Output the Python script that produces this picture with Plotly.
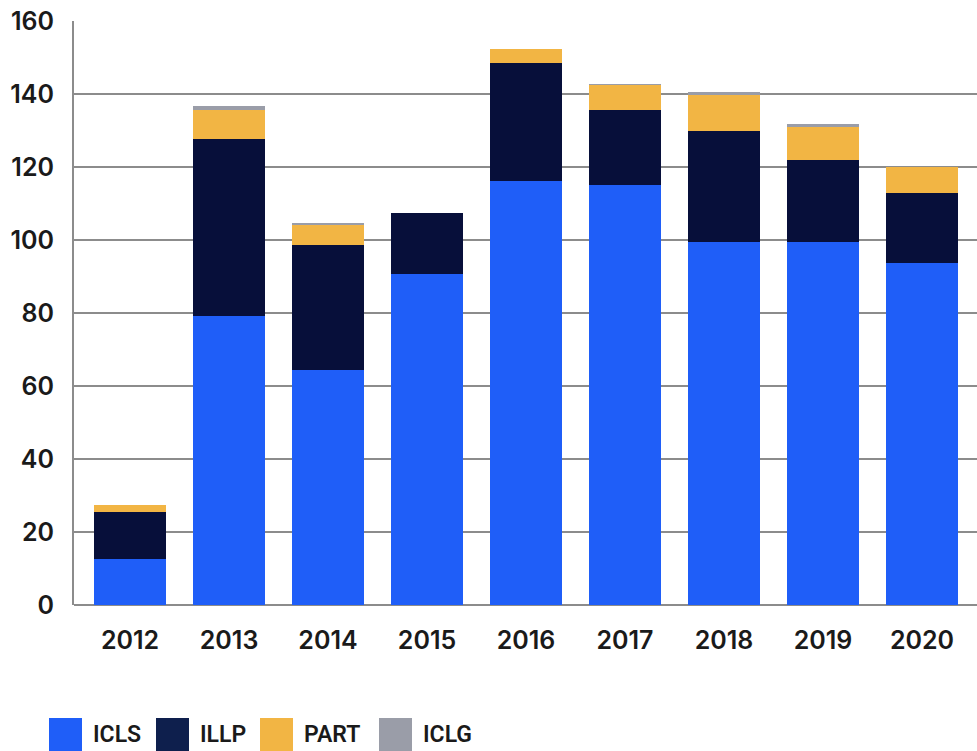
import plotly.graph_objects as go

years = ['2012', '2013', '2014', '2015', '2016', '2017', '2018', '2019', '2020']
icls = [12.5, 79.1, 64.3, 90.6, 116.1, 115.0, 99.4, 99.4, 93.6]
illp = [12.9, 48.7, 34.2, 16.7, 32.3, 20.5, 30.4, 22.4, 19.4]
part = [1.9, 7.7, 5.8, 0.0, 3.8, 7.0, 9.9, 9.1, 6.9]
iclg = [0.0, 1.1, 0.2, 0.0, 0.0, 0.2, 0.8, 0.8, 0.0]

series_names = ['ICLS', 'ILLP', 'PART', 'ICLG']
series_values = [icls, illp, part, iclg]
bar_colors = ['#1f5ef8', '#070f3a', '#f2b544', '#9a9da8']
legend_colors = ['#1f5ef8', '#0e1f4d', '#f2b544', '#9a9da8']

FONT = 'Inter'
TEXT = '#1a1a1a'
GRID = '#8c8c8c'

# plot area in pixels (for the hand-made legend)
L, T, W, H = 74, 21, 903, 584


def px_x(x):
    return (x - L) / W


def px_y(y):
    return (T + H - y) / H


fig = go.Figure()
for name, vals, col in zip(series_names, series_values, bar_colors):
    fig.add_trace(go.Bar(
        x=years, y=vals, name=name,
        marker=dict(color=col, line=dict(width=0)),
        showlegend=False,
        hovertemplate='%{x} ' + name + ': %{y}<extra></extra>',
    ))

# legend: big squares + labels below the chart
swatch_x = [49, 156, 260, 379]
for name, col, sx in zip(series_names, legend_colors, swatch_x):
    fig.add_shape(type='rect', xref='paper', yref='paper',
                  x0=px_x(sx), x1=px_x(sx + 33), y0=px_y(751), y1=px_y(718),
                  fillcolor=col, line=dict(width=0))
    fig.add_annotation(xref='paper', yref='paper', x=px_x(sx + 42), y=px_y(734.5),
                       text=name, showarrow=False, xanchor='left', yanchor='middle',
                       font=dict(family='Roboto', size=23, color=TEXT, weight=600))

fig.update_layout(
    barmode='stack',
    bargap=0.273,
    width=977, height=751,
    margin=dict(l=L, r=0, t=T, b=751 - T - H),
    paper_bgcolor='white',
    plot_bgcolor='white',
    font=dict(family=FONT, color=TEXT, size=25),
    xaxis=dict(
        range=[-0.566, 8.556],
        showgrid=False,
        showline=False,
        ticks='',
        ticklabelstandoff=18,
        tickfont=dict(family=FONT, size=25, color=TEXT, weight=600),
    ),
    yaxis=dict(
        range=[0, 160],
        dtick=20,
        showgrid=True,
        gridcolor=GRID,
        gridwidth=2,
        zeroline=True,
        zerolinecolor=GRID,
        zerolinewidth=2,
        showline=True,
        linecolor=GRID,
        linewidth=2,
        ticks='',
        ticklabelstandoff=13,
        tickfont=dict(family=FONT, size=25, color=TEXT, weight=600),
    ),
)

fig.write_html('out.html', config={'displayModeBar': False},
               post_script="document.body.style.margin='0';")
